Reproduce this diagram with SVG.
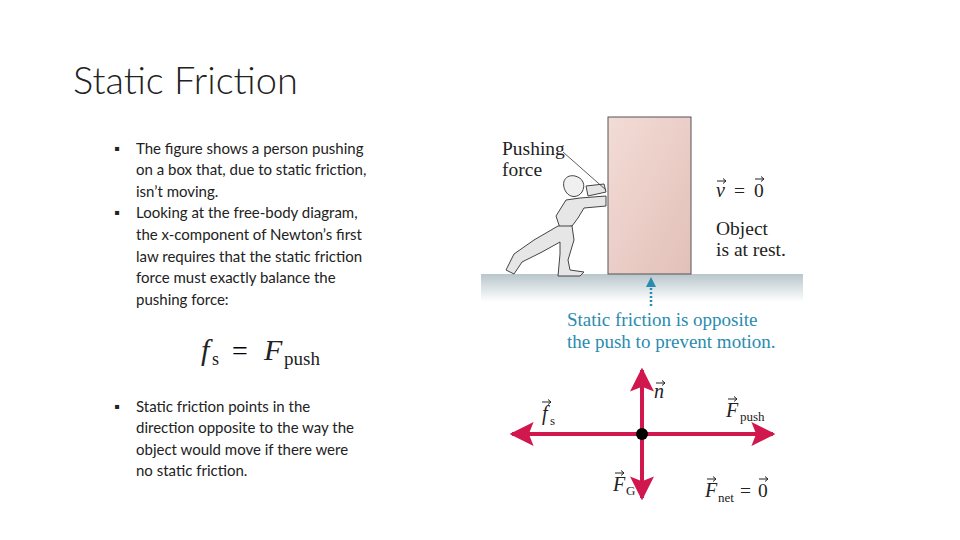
<svg xmlns="http://www.w3.org/2000/svg" width="960" height="540" viewBox="0 0 960 540">
<defs>
<linearGradient id="box" x1="0" y1="0" x2="1" y2="1"><stop offset="0" stop-color="#f3dcd6"/><stop offset="1" stop-color="#e2c0b8"/></linearGradient>
<linearGradient id="gnd" x1="0" y1="0" x2="0" y2="1"><stop offset="0" stop-color="#b8c6cc"/><stop offset="1" stop-color="#ffffff"/></linearGradient>
<marker id="ah" viewBox="0 0 10 10" refX="9" refY="5" markerWidth="6" markerHeight="6" orient="auto" markerUnits="strokeWidth"><path d="M0,0 L10,5 L0,10 L2,5 Z" fill="#d0184e"/></marker>
<marker id="bh" viewBox="0 0 10 10" refX="8" refY="5" markerWidth="4" markerHeight="4" orient="auto" markerUnits="strokeWidth"><path d="M0,0 L10,5 L0,10 Z" fill="#2a8bb0"/></marker>
<path id="vec" d="M0,0 H9 M6,-2.5 L9,0 L6,2.5" fill="none" stroke="#222" stroke-width="1"/>
</defs>
<style>
.b{font-family:Lato,"Open Sans",sans-serif;font-size:15px;fill:#222}
.s{font-family:"Liberation Serif",serif;font-size:19.5px;fill:#222}
.bl{font-family:"Liberation Serif",serif;font-size:19px;fill:#2a8bb0}
.f{stroke:#d0184e;stroke-width:4;fill:none;marker-end:url(#ah)}
.m{font-family:"Liberation Serif",serif;font-style:italic;fill:#222}
.sub{font-family:"Liberation Serif",serif;font-size:13px;fill:#222}
</style>
<text x="73" y="94" font-family="Lato,'Open Sans',sans-serif" font-size="38" font-weight="300" fill="#222">Static Friction</text>
<g class="b">
<text x="114" y="154">▪</text><text x="136" y="154">The figure shows a person pushing</text>
<text x="136" y="175">on a box that, due to static friction,</text>
<text x="136" y="197">isn’t moving.</text>
<text x="114" y="218">▪</text><text x="136" y="218">Looking at the free-body diagram,</text>
<text x="136" y="240">the x-component of Newton’s first</text>
<text x="136" y="262">law requires that the static friction</text>
<text x="136" y="283">force must exactly balance the</text>
<text x="136" y="305">pushing force:</text>
<text x="114" y="412">▪</text><text x="136" y="412">Static friction points in the</text>
<text x="136" y="433">direction opposite to the way the</text>
<text x="136" y="455">object would move if there were</text>
<text x="136" y="476">no static friction.</text>
</g>
<g id="equation"><text x="201" y="360" class="m" font-size="30">f</text><text x="212" y="365" class="sub" style="font-size:18px">s</text><text x="232" y="360" font-family="Liberation Serif,serif" font-size="28">=</text><text x="264" y="360" class="m" font-size="30">F</text><text x="284" y="365" class="sub" style="font-size:19px">push</text></g>
<g id="scene">
<rect x="481" y="274" width="322" height="28" fill="url(#gnd)"/>
<rect x="608" y="117" width="83" height="157" fill="url(#box)" stroke="#555" stroke-width="1"/>
<g id="person" fill="#e6e6e6" stroke="#444" stroke-width="1">
<path d="M566,192 C560,182 566,174 575,176 C583,178 586,185 582,192 C578,198 570,198 566,192 Z" fill="#f0f0f0"/>
<path d="M566,200 L580,198 L606,196 L606,206 L584,208 L578,218 L572,226 L560,228 L556,216 Z"/>
<path d="M558,226 L572,226 L574,240 L568,260 L570,270 L584,272 L580,276 L558,276 L560,254 L560,242 L542,252 L522,262 L514,274 L506,270 L514,254 L534,240 Z"/>
<path d="M586,186 L604,184 L606,192 L588,196 Z"/>
</g>
<line x1="563" y1="152" x2="606" y2="190" stroke="#333" stroke-width="0.8"/>
<text x="502" y="155" class="s">Pushing</text><text x="502" y="176" class="s">force</text>
<text x="716" y="197" class="m" font-size="20">v</text><use href="#vec" x="717" y="181"/>
<text x="734" y="197" class="s">=</text><text x="754" y="197" class="s">0</text><use href="#vec" x="755" y="179"/>
<text x="716" y="235" class="s">Object</text><text x="716" y="256" class="s">is at rest.</text>
<line x1="651" y1="306" x2="651" y2="279" stroke="#2a8bb0" stroke-width="2.5" stroke-dasharray="2,2" marker-end="url(#bh)"/>
<text x="567" y="326" class="bl">Static friction is opposite</text>
<text x="567" y="348" class="bl">the push to prevent motion.</text>
</g>
<g id="connectors">
<line class="f" x1="642" y1="434" x2="512" y2="434"/>
<line class="f" x1="642" y1="434" x2="773" y2="434"/>
<line class="f" x1="642" y1="434" x2="642" y2="370"/>
<line class="f" x1="642" y1="434" x2="642" y2="498"/>
</g>
<g id="fbd-labels">
<circle cx="642" cy="434" r="6" fill="#000"/>
<text x="654" y="398" class="m" font-size="20">n</text><use href="#vec" x="656" y="383"/>
<text x="542" y="420" class="m" font-size="20">f</text><use href="#vec" x="542" y="402"/><text x="550" y="425" class="sub">s</text>
<text x="726" y="417" class="m" font-size="20">F</text><use href="#vec" x="728" y="399"/><text x="740" y="421" class="sub">push</text>
<text x="613" y="491" class="m" font-size="20">F</text><use href="#vec" x="615" y="473"/><text x="626" y="495" class="sub">G</text>
<text x="705" y="497" class="m" font-size="20">F</text><use href="#vec" x="707" y="479"/><text x="718" y="502" class="sub">net</text>
<text x="740" y="497" class="s">=</text><text x="758" y="497" class="s">0</text><use href="#vec" x="759" y="479"/>
</g>
</svg>
